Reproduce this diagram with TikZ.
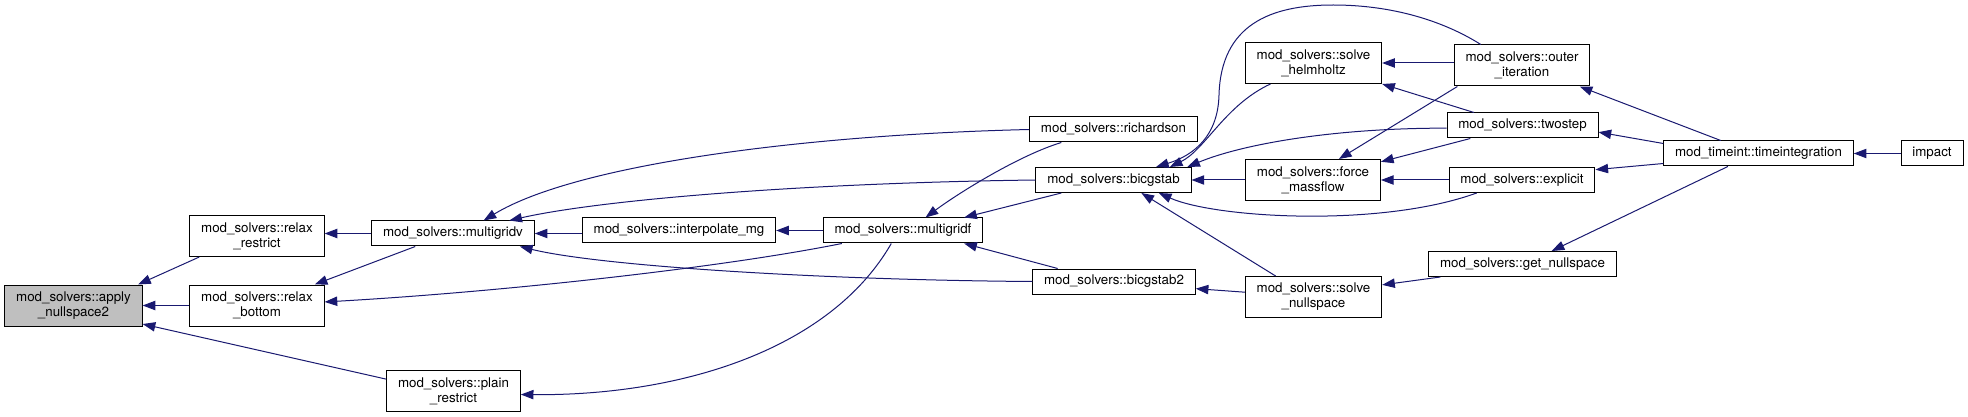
\documentclass[tikz,border=0pt]{standalone}
\usepackage{fontspec}
\setmainfont{TeX Gyre Heros}
\usetikzlibrary{arrows.meta}
\definecolor{edgeblue}{HTML}{191970}

\begin{document}
\begin{tikzpicture}[x=0.75pt,y=-0.75pt,>={Triangle[length=9.5pt,width=7pt]},
  every node/.style={font=\fontsize{10}{11.25}\selectfont},
  box/.style={draw=black,line width=0.75pt,fill=white,inner xsep=8.5pt,inner ysep=0pt},
  fn/.style={box,minimum height=18.75pt,text height=7.3pt,text depth=2.2pt},
  fn2/.style={box,align=center,minimum height=30.75pt},
  edge/.style={<-,draw=edgeblue,line width=0.75pt}]
\useasboundingbox (0,0) rectangle (1968,417);
% functions, left to right
\node[fn2,fill=gray!50] (applyns) at (73.5,305.5) {mod\_solvers::apply\\\_nullspace2};
\node[fn2] (relaxr) at (257,236) {mod\_solvers::relax\\\_restrict};
\node[fn2] (relaxb) at (257,305.5) {mod\_solvers::relax\\\_bottom};
\node[fn] (mgv) at (453,233.5) {mod\_solvers::multigridv};
\node[fn2] (plainr) at (453.5,391) {mod\_solvers::plain\\\_restrict};
\node[fn] (interp) at (679,230.5) {mod\_solvers::interpolate\_mg};
\node[fn] (mgf) at (903,230.5) {mod\_solvers::multigridf};
\node[fn] (richardson) at (1113.5,129.5) {mod\_solvers::richardson};
\node[fn] (bicgstab) at (1113.5,180) {mod\_solvers::bicgstab};
\node[fn] (bicgstab2) at (1114,281.5) {mod\_solvers::bicgstab2};
\node[fn2] (helmholtz) at (1313.5,63) {mod\_solvers::solve\\\_helmholtz};
\node[fn2] (forcemf) at (1313,180) {mod\_solvers::force\\\_massflow};
\node[fn2] (solvens) at (1313.5,297) {mod\_solvers::solve\\\_nullspace};
\node[fn2] (outer) at (1522,65.5) {mod\_solvers::outer\\\_iteration};
\node[fn] (twostep) at (1522.5,125.5) {mod\_solvers::twostep};
\node[fn] (explicit) at (1522,180) {mod\_solvers::explicit};
\node[fn] (getns) at (1522.5,264) {mod\_solvers::get\_nullspace};
\node[fn] (timeint) at (1758.5,153.5) {mod\_timeint::timeintegration};
\node[fn] (impact) at (1932,153.5) {impact};
% callers of apply_nullspace2
\draw[edge] (applyns.18) -- (relaxr.200);
\draw[edge] (applyns.east) -- (relaxb.west);
\draw[edge] (applyns.-15) -- (plainr.170);
% relax and restrict routines
\draw[edge] (relaxr.east |- mgv.west) -- (mgv.west);
\draw[edge] (relaxb.20) -- (mgv.199);
\draw[edge] (relaxb.3) .. controls (500,292) and (720,268) .. (mgf.192);
\draw[edge] (plainr.-3) .. controls (680,396) and (830,350) .. (mgf.228);
% multigridv
\draw[edge] (mgv.east) -- (interp.west |- mgv.east);
\draw[edge] (mgv.23) .. controls (575,165) and (800,135) .. (richardson.west);
\draw[edge] (mgv.13) .. controls (600,200) and (800,183) .. (bicgstab.west);
\draw[edge] (mgv.-11) .. controls (600,266) and (820,280) .. (bicgstab2.west);
% multigridf
\draw[edge] (interp.east) -- (mgf.west);
\draw[edge] (mgf.30) .. controls (960,192) and (1020,155) .. (richardson.194);
\draw[edge] (mgf.12) -- (bicgstab.194);
\draw[edge] (mgf.-12) -- (bicgstab2.167);
% bicgstab and bicgstab2
\draw[edge] (bicgstab.17) .. controls (1195,155) and (1218,135) .. (1219,95)
  .. controls (1221,25) and (1270,5) .. (1333,5)
  .. controls (1400,5) and (1450,25) .. (outer.153);
\draw[edge] (bicgstab.13) .. controls (1205,150) and (1225,105) .. (helmholtz.206);
\draw[edge] (bicgstab.10) .. controls (1240,145) and (1330,128) .. (twostep.182);
\draw[edge] (bicgstab.east) -- (forcemf.west);
\draw[edge] (bicgstab.-16) .. controls (1215,218) and (1380,228) .. (explicit.196);
\draw[edge] (bicgstab.-25) -- (solvens.151);
\draw[edge] (bicgstab2.-5) -- (solvens.176);
% solvers
\draw[edge] (helmholtz.east) -- (outer.west |- helmholtz.east);
\draw[edge] (helmholtz.south east) -- (twostep.165);
\draw[edge] (forcemf.39) -- (outer.198);
\draw[edge] (forcemf.15) -- (twostep.194);
\draw[edge] (forcemf.east) -- (explicit.west);
\draw[edge] (solvens.10) -- (getns.189);
% time integration
\draw[edge] (outer.-20) -- (timeint.161);
\draw[edge] (twostep.-5) -- (timeint.174);
\draw[edge] (explicit.8) -- (timeint.186);
\draw[edge] (getns.24) -- (timeint.203);
\draw[edge] (timeint.east) -- (impact.west);
\end{tikzpicture}
\end{document}
